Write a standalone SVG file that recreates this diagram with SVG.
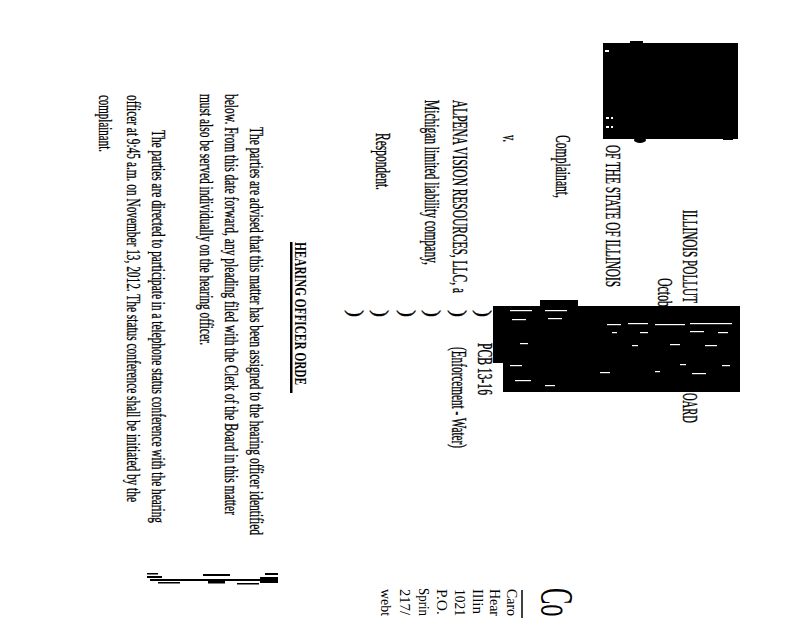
<svg xmlns="http://www.w3.org/2000/svg" width="800" height="618" viewBox="0 0 800 618">
<style>
text{font-family:"Liberation Serif","Times New Roman",serif;fill:#000}
.cap{font-size:21px;stroke:#000;stroke-width:0.35}
.body{font-size:18px;stroke:#000;stroke-width:0.3}
.head{font-size:17px;font-weight:bold}
.addr{font-size:15px}
.addr2{font-size:14px}
.logo{font-size:47px}
.sp{fill:#fff}
</style>
<rect width="800" height="618" fill="#fff"/>
<g id="page" transform="translate(800,0) rotate(90)">
  <g id="condensed" transform="scale(0.55,1)">
    <g id="heading">
      <text class="cap" x="381.8" y="117" textLength="169.1" lengthAdjust="spacingAndGlyphs">ILLINOIS POLLUT</text>
      <text class="cap" x="714.5" y="117" textLength="54.5" lengthAdjust="spacingAndGlyphs">OARD</text>
      <text class="cap" x="505.5" y="142" textLength="52.7" lengthAdjust="spacingAndGlyphs">Octob</text>
    </g>
    <g id="caption">
      <text class="cap" x="263.6" y="194" textLength="258.2" lengthAdjust="spacingAndGlyphs">OF THE STATE OF ILLINOIS</text>
      <text class="cap" x="245.5" y="244" textLength="114.5" lengthAdjust="spacingAndGlyphs">Complainant,</text>
      <text class="cap" x="245.5" y="297" textLength="12.7" lengthAdjust="spacingAndGlyphs">v.</text>
      <text class="cap" x="181.8" y="347" textLength="350.9" lengthAdjust="spacingAndGlyphs">ALPENA VISION RESOURCES, LLC, a</text>
      <text class="cap" x="181.8" y="375" textLength="300" lengthAdjust="spacingAndGlyphs">Michigan limited liability company,</text>
      <text class="cap" x="241.8" y="424" textLength="103.6" lengthAdjust="spacingAndGlyphs">Respondent.</text>
      <text class="cap" x="563.6" y="323" textLength="12.7" lengthAdjust="spacingAndGlyphs">)</text>
      <text class="cap" x="563.6" y="348" textLength="12.7" lengthAdjust="spacingAndGlyphs">)</text>
      <text class="cap" x="563.6" y="374" textLength="12.7" lengthAdjust="spacingAndGlyphs">)</text>
      <text class="cap" x="563.6" y="399" textLength="12.7" lengthAdjust="spacingAndGlyphs">)</text>
      <text class="cap" x="563.6" y="426" textLength="12.7" lengthAdjust="spacingAndGlyphs">)</text>
      <text class="cap" x="563.6" y="451" textLength="12.7" lengthAdjust="spacingAndGlyphs">)</text>
      <text class="cap" x="623.6" y="322" textLength="94.5" lengthAdjust="spacingAndGlyphs">PCB 13-16</text>
      <text class="cap" x="630.9" y="348" textLength="183.6" lengthAdjust="spacingAndGlyphs">(Enforcement - Water)</text>
    </g>
    <g id="order">
      <text class="head" x="440" y="505" textLength="260" lengthAdjust="spacingAndGlyphs">HEARING OFFICER ORDE</text>
      <rect x="440" y="507.5" width="274.5" height="2.5"/>
      <text class="body" x="230.9" y="550" textLength="741.8" lengthAdjust="spacingAndGlyphs">The parties are advised that this matter has been assigned to the hearing officer identified</text>
      <text class="body" x="170.9" y="575" textLength="765.5" lengthAdjust="spacingAndGlyphs">below.  From this date forward, any pleading filed with the Clerk of the Board in this matter</text>
      <text class="body" x="170.9" y="600" textLength="456.4" lengthAdjust="spacingAndGlyphs">must also be served individually on the hearing officer.</text>
      <text class="body" x="236.4" y="648" textLength="714.5" lengthAdjust="spacingAndGlyphs">The parties are directed to participate in a telephone status conference with the hearing</text>
      <text class="body" x="172.7" y="673" textLength="740" lengthAdjust="spacingAndGlyphs">officer at 9:45 a.m. on November 13, 2012.  The status conference shall be initiated by the</text>
      <text class="body" x="172.7" y="701" textLength="103.6" lengthAdjust="spacingAndGlyphs">complainant.</text>
    </g>
    <g id="logo">
      <text class="logo" x="1069.1" y="259" textLength="52" lengthAdjust="spacingAndGlyphs">Co</text>
    </g>
  </g>
  <g id="address">
    <text class="addr" x="589" y="293" textLength="27" lengthAdjust="spacingAndGlyphs">Caro</text>
    <text class="addr" x="589" y="310" textLength="27" lengthAdjust="spacingAndGlyphs">Hear</text>
    <text class="addr" x="589" y="327" textLength="25" lengthAdjust="spacingAndGlyphs">Illin</text>
    <text class="addr2" x="589" y="345" textLength="27" lengthAdjust="spacingAndGlyphs">1021</text>
    <text class="addr" x="589" y="363" textLength="26" lengthAdjust="spacingAndGlyphs">P.O.</text>
    <text class="addr2" x="588" y="381" textLength="28" lengthAdjust="spacingAndGlyphs">Sprin</text>
    <text class="addr" x="589" y="400" textLength="26" lengthAdjust="spacingAndGlyphs">217/</text>
    <text class="addr" x="589" y="419" textLength="27" lengthAdjust="spacingAndGlyphs">webt</text>
  </g>
</g>
<line x1="522" y1="590" x2="522" y2="618" stroke="#000" stroke-width="1.5"/>
<g id="redactions">
  <rect x="603" y="43" width="135" height="96"/>
  <rect x="630" y="41" width="13" height="3"/>
  <ellipse cx="640" cy="140" rx="6" ry="3"/>
  <rect x="723" y="137" width="10" height="3"/>
  <rect x="493" y="306" width="247" height="57"/>
  <rect x="503" y="362" width="237" height="30"/>
  <rect x="540" y="300" width="38" height="7"/>
  <g class="sp">
    <rect x="605" y="50" width="4" height="2"/>
    <rect x="606" y="117" width="3" height="2"/>
    <rect x="611" y="117" width="2" height="2"/>
    <rect x="606" y="126" width="3" height="2"/>
    <rect x="611" y="126" width="2" height="2"/>
    <rect x="607" y="324" width="14" height="1.2"/>
    <rect x="628" y="323" width="20" height="1.2"/>
    <rect x="655" y="324" width="30" height="1.2"/>
    <rect x="690" y="323" width="42" height="1.2"/>
    <rect x="612" y="332" width="5" height="1.2"/>
    <rect x="640" y="332" width="8" height="1.2"/>
    <rect x="690" y="331" width="14" height="1.2"/>
    <rect x="718" y="332" width="10" height="1.2"/>
    <rect x="632" y="345" width="6" height="1.2"/>
    <rect x="670" y="344" width="10" height="1.2"/>
    <rect x="705" y="345" width="12" height="1.2"/>
    <rect x="680" y="364" width="6" height="1.2"/>
    <rect x="722" y="365" width="8" height="1.2"/>
    <rect x="600" y="372" width="10" height="1.2"/>
    <rect x="655" y="371" width="5" height="1.2"/>
    <rect x="692" y="373" width="14" height="1.2"/>
    <rect x="545" y="310" width="22" height="1.2"/>
    <rect x="548" y="318" width="14" height="1.2"/>
    <rect x="510" y="310" width="22" height="1.2"/>
    <rect x="512" y="319" width="14" height="1.2"/>
    <rect x="520" y="343" width="8" height="1.2"/>
    <rect x="510" y="365" width="12" height="1.2"/>
    <rect x="515" y="380" width="16" height="1.2"/>
    <rect x="545" y="385" width="10" height="1.2"/>
  </g>
</g>
<g id="signature" fill="#000">
  <rect x="147" y="573" width="11" height="1.5"/>
  <rect x="147" y="576" width="15" height="2"/>
  <rect x="150" y="579" width="127" height="2"/>
  <rect x="158" y="582" width="22" height="1.5"/>
  <rect x="203" y="574" width="27" height="2"/>
  <rect x="208" y="581" width="17" height="2.5"/>
  <rect x="237" y="583" width="22" height="1.5"/>
  <rect x="265" y="573" width="13" height="2"/>
  <rect x="260" y="577" width="18" height="6"/>
</g>
</svg>
